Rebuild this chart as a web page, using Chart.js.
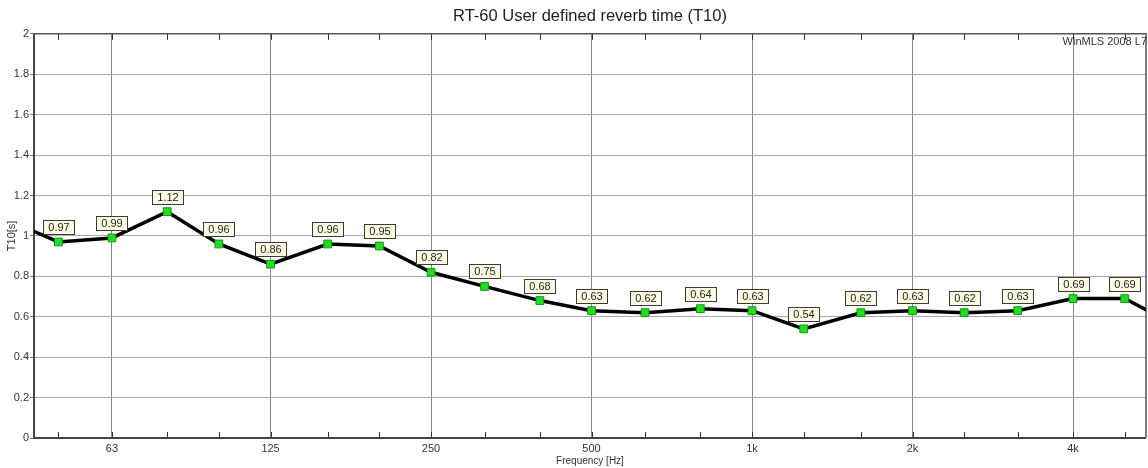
<!DOCTYPE html>
<html>
<head>
<meta charset="utf-8">
<script src="https://cdn.jsdelivr.net/npm/chart.js@4.4.1/dist/chart.umd.min.js"></script>
<style>
  html, body { margin: 0; padding: 0; background: #ffffff; }
  #wrap { width: 1148px; height: 468px; }
</style>
</head>
<body>
<div id="wrap"><canvas id="c" width="1148" height="468"></canvas></div>
<script>
// Third-octave band centre frequencies (Hz)
const frequencies = [40, 50, 63, 80, 100, 125, 160, 200, 250, 315, 400, 500, 630, 800, 1000, 1250, 1600, 2000, 2500, 3150, 4000, 5000, 6300];
// T10 reverb time (s) per band
const t10Values = [1.08, 0.97, 0.99, 1.12, 0.96, 0.86, 0.96, 0.95, 0.82, 0.75, 0.68, 0.63, 0.62, 0.64, 0.63, 0.54, 0.62, 0.63, 0.62, 0.63, 0.69, 0.69, 0.55];
// Labelled octave ticks on the frequency axis
const octaveTicks = [63, 125, 250, 500, 1000, 2000, 4000];
const octaveLabels = ['63', '125', '250', '500', '1k', '2k', '4k'];
const yTicks = [0, 0.2, 0.4, 0.6, 0.8, 1, 1.2, 1.4, 1.6, 1.8, 2];

const FONT = '"Liberation Sans", Arial, sans-serif';

const framePlugin = {
  id: 'frame',
  beforeDatasetsDraw(chart) {
    const {ctx, chartArea: a, scales} = chart;
    ctx.save();
    // inner tick marks on top & bottom edges
    ctx.strokeStyle = '#333';
    ctx.lineWidth = 1;
    scales.x.ticks.forEach(t => {
      const x = Math.round(scales.x.getPixelForValue(t.value)) + 0.5;
      ctx.beginPath();
      ctx.moveTo(x, a.bottom); ctx.lineTo(x, a.bottom - 6);
      ctx.moveTo(x, a.top); ctx.lineTo(x, a.top + 6);
      ctx.stroke();
    });
    // frame
    ctx.strokeStyle = '#555';
    ctx.lineWidth = 1.5;
    ctx.beginPath();
    ctx.moveTo(a.left, a.top); ctx.lineTo(a.right, a.top); ctx.lineTo(a.right, a.bottom);
    ctx.stroke();
    ctx.strokeStyle = '#444';
    ctx.lineWidth = 2;
    ctx.beginPath();
    ctx.moveTo(a.left, a.top); ctx.lineTo(a.left, a.bottom); ctx.lineTo(a.right, a.bottom);
    ctx.stroke();
    ctx.restore();
  },
  afterDatasetsDraw(chart) {
    const {ctx, chartArea: a} = chart;
    const meta = chart.getDatasetMeta(0);
    ctx.save();
    ctx.font = '11px ' + FONT;
    ctx.textAlign = 'center';
    ctx.textBaseline = 'middle';
    meta.data.forEach((pt, i) => {
      if (pt.x < a.left || pt.x > a.right) return;
      const txt = t10Values[i].toFixed(2);
      const w = Math.ceil(ctx.measureText(txt).width) + 9;
      const h = 14;
      const bx = Math.round(pt.x - w / 2) + 0.5;
      const by = Math.round(pt.y - 8 - h) + 0.5;
      ctx.fillStyle = '#fbfbe2';
      ctx.fillRect(bx, by, w, h);
      ctx.strokeStyle = '#3a3a3a';
      ctx.lineWidth = 1;
      ctx.strokeRect(bx, by, w, h);
      ctx.fillStyle = '#222';
      ctx.fillText(txt, bx + w / 2, by + h / 2 + 0.5);
    });
    // watermark
    ctx.font = '11px ' + FONT;
    ctx.textAlign = 'right';
    ctx.textBaseline = 'top';
    ctx.fillStyle = '#333';
    ctx.fillText('WinMLS 2008 L7', a.right + 1, a.top + 3);
    ctx.restore();
  }
};

new Chart(document.getElementById('c'), {
  type: 'line',
  data: {
    datasets: [{
      data: frequencies.map((f, i) => ({x: f, y: t10Values[i]})),
      borderColor: '#000',
      borderWidth: 3.5,
      tension: 0,
      pointStyle: 'rect',
      pointRadius: 5.5,
      pointHoverRadius: 5.5,
      pointBackgroundColor: '#22dd22',
      pointBorderColor: '#139913',
      pointBorderWidth: 1
    }]
  },
  options: {
    responsive: false,
    animation: false,
    devicePixelRatio: 1,
    layout: { autoPadding: false, padding: { right: 2 } },
    plugins: {
      legend: { display: false },
      tooltip: { enabled: false },
      title: {
        display: true,
        text: 'RT-60 User defined reverb time (T10)',
        fullSize: false,
        color: '#222',
        font: { family: FONT, size: 16.5, weight: 'normal', lineHeight: 1.2 },
        padding: { top: 7, bottom: 7 }
      }
    },
    scales: {
      x: {
        type: 'logarithmic',
        min: 45,
        max: 5482,
        afterBuildTicks(scale) {
          scale.ticks = frequencies.filter(f => f >= 45 && f <= 5482).map(v => ({value: v}));
        },
        afterFit(scale) {
          scale.height = 30;
          scale.paddingLeft = 0;
          scale.paddingRight = 0;
        },
        ticks: {
          autoSkip: false,
          maxRotation: 0,
          padding: 4,
          color: '#333',
          font: { family: FONT, size: 11 },
          callback(value) {
            const k = octaveTicks.indexOf(value);
            return k >= 0 ? octaveLabels[k] : '';
          }
        },
        grid: {
          drawTicks: false,
          lineWidth: 1,
          color(ctx) {
            return ctx.tick && octaveTicks.includes(ctx.tick.value) ? '#858585' : 'rgba(0,0,0,0)';
          }
        },
        border: { display: false },
        title: {
          display: true,
          text: 'Frequency [Hz]',
          color: '#333',
          font: { family: FONT, size: 10, lineHeight: 1.2 },
          padding: { top: 0, bottom: 1 }
        }
      },
      y: {
        min: 0,
        max: 2,
        afterBuildTicks(scale) {
          scale.ticks = yTicks.map(v => ({value: v}));
        },
        afterFit(scale) { scale.width = 34; },
        ticks: {
          padding: 1,
          color: '#333',
          font: { family: FONT, size: 11 },
          callback(value) { return String(Number(value.toFixed(1))); }
        },
        grid: {
          color: '#aaaaaa',
          lineWidth: 1,
          drawTicks: true,
          tickLength: 4,
          tickColor: '#777'
        },
        border: { display: false },
        title: {
          display: true,
          text: 'T10[s]',
          color: '#333',
          font: { family: FONT, size: 11, lineHeight: 1.2 },
          padding: { top: 5, bottom: 0 }
        }
      }
    }
  },
  plugins: [framePlugin]
});
</script>
</body>
</html>
